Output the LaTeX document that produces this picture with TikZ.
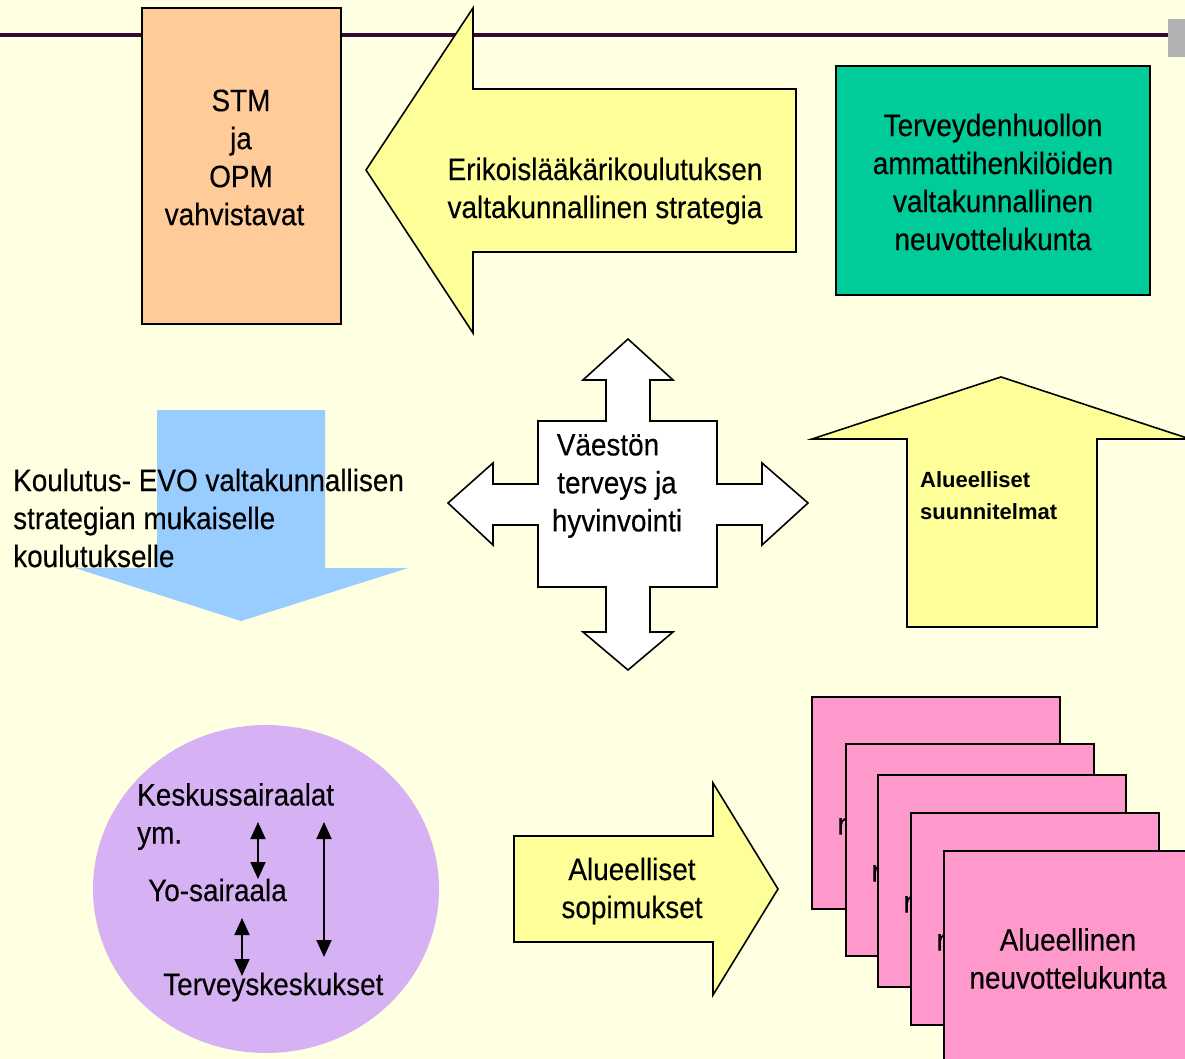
\documentclass[tikz,border=0pt]{standalone}
\usepackage{fontspec}
\setmainfont{Liberation Sans}
\newfontfamily\narrowf[FakeStretch=0.9, FakeBold=0.3]{Liberation Sans}
\usetikzlibrary{arrows.meta}
\definecolor{bgc}{RGB}{255,255,225}
\definecolor{linec}{RGB}{55,8,55}
\definecolor{greyc}{RGB}{178,178,178}
\definecolor{orangec}{RGB}{255,204,153}
\definecolor{yellowc}{RGB}{255,255,153}
\definecolor{greenc}{RGB}{0,204,153}
\definecolor{bluec}{RGB}{153,204,255}
\definecolor{pinkc}{RGB}{255,153,204}
\definecolor{lavc}{RGB}{214,178,245}
\tikzset{
  shapeline/.style={draw=black, line width=1.6pt, line join=miter},
  txt/.style={inner sep=0pt, font=\narrowf\fontsize{31}{38}\selectfont},
  btxt/.style={inner sep=0pt, font=\fontsize{22}{32}\selectfont\bfseries},
  dblarrow/.style={line width=1.8pt, {Triangle[width=15pt,length=17pt]}-{Triangle[width=15pt,length=17pt]}},
}
\begin{document}
\begin{tikzpicture}[x=1pt,y=-1pt]
\useasboundingbox (0,0) rectangle (1185,1059);
\begin{scope}
\clip (0,0) rectangle (1185,1059);
\fill[bgc] (0,0) rectangle (1185,1059);
% header line and grey tab
\draw[linec, line width=4pt] (0,35) -- (1185,35);
\fill[greyc] (1168,19) rectangle (1185,57);
% STM box
\draw[shapeline, fill=orangec] (142,8) rectangle (341,324);
\node[txt, align=center] (stm) at (241,157.5) {STM\\ja\\OPM\\vahvistavat\hspace*{13pt}};
% big left arrow
\draw[shapeline, fill=yellowc] (366,170) -- (473,8) -- (473,89) -- (796,89) -- (796,252) -- (473,252) -- (473,333) -- cycle;
\node[txt, align=center] (strat) at (605,191) {Erikoislääkärikoulutuksen\\valtakunnallinen strategia};
% green box
\draw[shapeline, fill=greenc] (836,66) rectangle (1150,295);
\node[txt, align=center] (neuv) at (993,182) {Terveydenhuollon\\ammattihenkilöiden\\valtakunnallinen\\neuvottelukunta};
% blue down arrow
\fill[bluec] (157,410) -- (325,410) -- (325,568) -- (408,568) -- (241,621) -- (75,568) -- (157,568) -- cycle;
\node[txt, align=left, anchor=west] (koul) at (13,518) {Koulutus- EVO valtakunnallisen\\strategian mukaiselle\\koulutukselle};
% cross arrow
\draw[shapeline, fill=white]
  (628,339) -- (673,380) -- (650,380) -- (650,421) -- (717,421) -- (717,484) -- (762,484) -- (762,463)
  -- (808,503) -- (762,545) -- (762,525) -- (717,525) -- (717,587) -- (650,587) -- (650,632) -- (673,632)
  -- (628,670) -- (583,632) -- (606,632) -- (606,587) -- (538,587) -- (538,525) -- (493,525) -- (493,545)
  -- (448,503) -- (493,463) -- (493,484) -- (538,484) -- (538,421) -- (606,421) -- (606,380) -- (583,380) -- cycle;
\node[txt, align=center] (vaesto) at (617,486) {Väestön\hspace*{18pt}\\terveys ja\\hyvinvointi};
% up arrow
\draw[shapeline, fill=yellowc] (1001,377) -- (1190,439) -- (1097,439) -- (1097,627) -- (907,627) -- (907,439) -- (812,439) -- cycle;
\node[btxt, align=left, anchor=west] (suun) at (920,496) {Alueelliset\\suunnitelmat};
% circle
\fill[lavc] (266,889) ellipse [x radius=173, y radius=164];
\node[txt, align=left, anchor=west] (kesk) at (137,816.5) {Keskussairaalat\\ym.};
\node[txt, anchor=west] (yo) at (148,890) {Yo-sairaala};
\node[txt, anchor=west] (tk) at (163,987) {Terveyskeskukset};
\coordinate (a1) at (258,822);
\coordinate (a2) at (258,879);
\coordinate (b1) at (242,918);
\coordinate (b2) at (242,976);
\coordinate (c1) at (324,822);
\coordinate (c2) at (324,957);
\draw[dblarrow] (a1) -- (a2);
\draw[dblarrow] (b1) -- (b2);
\draw[dblarrow] (c1) -- (c2);
% right arrow
\draw[shapeline, fill=yellowc] (514,836) -- (713,836) -- (713,783) -- (778,889) -- (713,995) -- (713,942) -- (514,942) -- cycle;
\node[txt, align=center] (sop) at (632,891) {Alueelliset\\sopimukset};
% pink stacked boxes
\foreach \x/\y/\n in {812/697/p1, 846/744/p2, 878/775/p3, 911/813/p4, 944/851/p5}{
  \draw[shapeline, fill=pinkc] (\x,\y) rectangle ++(248,212);
  \node[txt, align=center] (\n) at (\x+124,\y+107.5) {Alueellinen\\neuvottelukunta};
}
\end{scope}
\end{tikzpicture}
\end{document}
